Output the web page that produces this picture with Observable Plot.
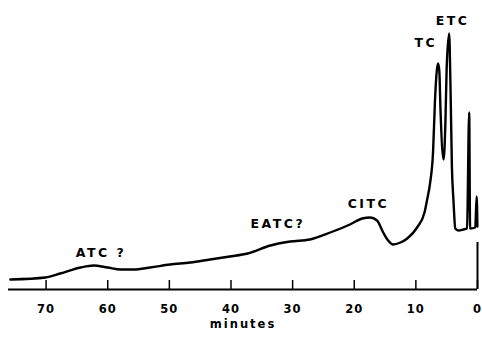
<!DOCTYPE html>
<html>
<head>
<meta charset="utf-8">
<script src="https://cdn.jsdelivr.net/npm/d3@7"></script>
<script src="https://cdn.jsdelivr.net/npm/@observablehq/plot@0.6"></script>
<style>
  html, body { margin: 0; padding: 0; background: #fff; }
  #chart { width: 482px; height: 340px; }
</style>
</head>
<body>
<div id="chart"></div>
<script>
// Retention time (minutes) and detector signal (arbitrary units)
const minutes = [75.8, 70.1, 67.7, 64.4, 62.3, 60.0, 57.9, 55.8, 53.1, 49.9, 46.6, 43.4, 40.2, 37.3,
  33.6, 30.4, 27.2, 23.9, 20.7, 18.7, 17.4, 16.3, 15.3, 14.5, 13.7, 12.5, 11.4, 9.8, 8.6, 8.2,
  7.7, 7.2, 6.9, 6.6, 6.4, 6.2, 6.0, 5.5, 5.2, 5.0, 4.6, 4.4, 4.15, 3.9, 3.6, 3.1, 2.3, 1.7,
  1.35, 1.2, 0.37, 0.13, 0.02];
const signal = [10, 12, 16, 22, 24, 22, 20, 20, 22, 25, 27, 30, 33, 36,
  44, 48, 50, 57, 65, 71, 72, 69, 57, 49, 45, 47, 51, 62, 77, 89,
  106, 139, 189, 219, 226, 219, 179, 130, 169, 222, 256, 209, 122, 89, 61, 59, 60, 61,
  177, 61, 62, 93, 63];

// Peak labels
const peakNames = ["ATC ?", "EATC?", "CITC", "TC", "ETC"];
const peakX = [61.1, 32.4, 17.7, 8.4, 4.05];
const peakY = [37, 66, 86, 247, 269];

// Axis ticks
const tickValues = [70, 60, 50, 40, 30, 20, 10, 0];
const xLabel = "minutes";

// Injection marker at t = 0
const injectionTop = [47];

const trace = minutes.map((m, i) => ({ m, s: signal[i] }));
const peaks = peakNames.map((name, i) => ({ name, x: peakX[i], y: peakY[i] }));

const font = "DejaVu Sans, sans-serif";

const chart = Plot.plot({
  width: 482,
  height: 340,
  marginLeft: 8,
  marginRight: 5,
  marginTop: 9,
  marginBottom: 51,
  style: { fontFamily: font, background: "#fff", color: "#000", overflow: "visible" },
  x: { domain: [76.1, 0], axis: null },
  y: { domain: [0, 280], axis: null },
  marks: [
    Plot.ruleY([0], { stroke: "#000", strokeWidth: 2 }),
    Plot.ruleX(tickValues, { x: d => d, y1: 0, y2: 9, stroke: "#000", strokeWidth: 1.5 }),
    Plot.ruleX(injectionTop, { x: 0, y1: 0, y2: d => d, stroke: "#000", strokeWidth: 2 }),
    Plot.axisX({
      ticks: tickValues,
      tickSize: 0,
      tickPadding: 15,
      fontSize: 11.5,
      fontWeight: "bold",
      label: null,
      tickFormat: d => String(d)
    }),
    Plot.text([xLabel], {
      frameAnchor: "bottom",
      dy: 35,
      text: d => d,
      fontSize: 11.5,
      fontWeight: "bold",
      fill: "#000",
      lineAnchor: "middle"
    }),
    Plot.line(trace, {
      x: "m",
      y: "s",
      stroke: "#000",
      strokeWidth: 2.4,
      curve: "monotone-x",
      strokeLinejoin: "round",
      strokeLinecap: "round"
    }),
    Plot.text(peaks, {
      x: "x",
      y: "y",
      text: "name",
      fontSize: 12.5,
      fontWeight: "bold",
      fill: "#000",
      lineAnchor: "middle"
    })
  ]
});

// letter spacing to mimic the stencil lettering of the original
d3.select(chart).selectAll("text").each(function () {
  const t = this.textContent;
  const el = d3.select(this);
  if (peakNames.includes(t)) el.style("letter-spacing", "2.5px");
  else if (t === xLabel) el.style("letter-spacing", "2px");
  else el.style("letter-spacing", "1px");
});

document.getElementById("chart").appendChild(chart);
</script>
</body>
</html>
